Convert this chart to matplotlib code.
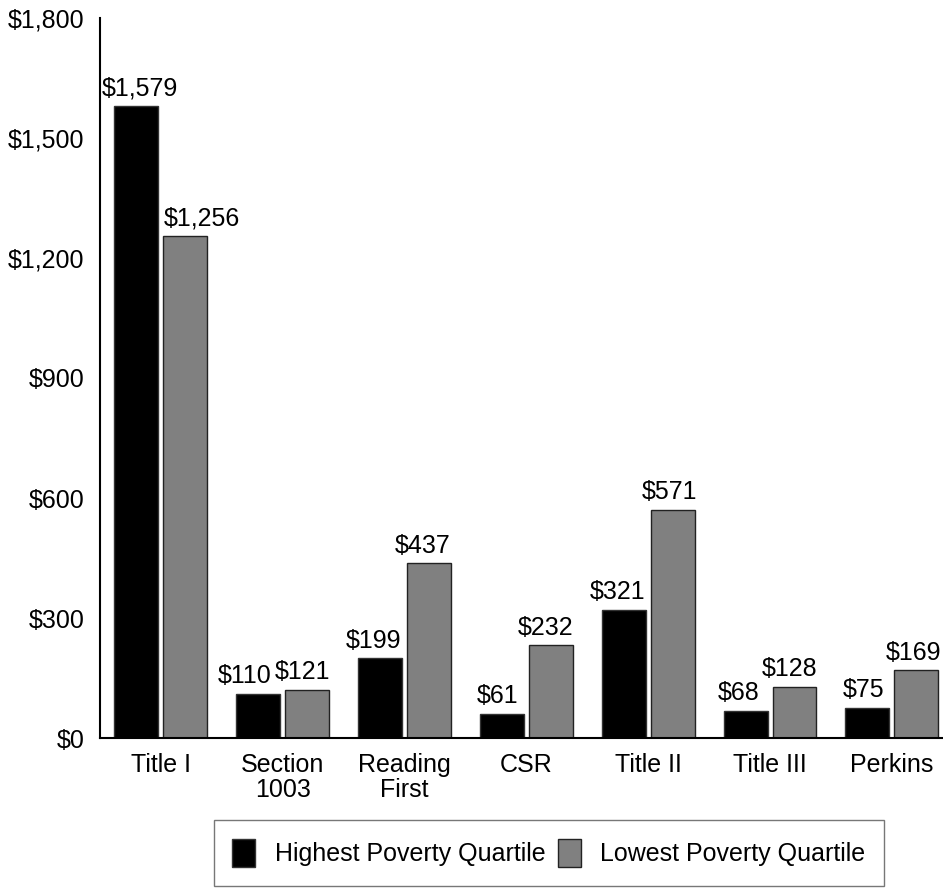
import matplotlib.pyplot as plt
import numpy as np

plt.rcParams['font.family'] = ['Liberation Sans', 'DejaVu Sans']

programas = ["Title I", "Section\n1003", "Reading\nFirst", "CSR", "Title II", "Title III", "Perkins"]
alta_pobreza = [1579, 110, 199, 61, 321, 68, 75]
baja_pobreza = [1256, 121, 437, 232, 571, 128, 169]

# desplazamiento horizontal de las etiquetas (pixeles)
desp_alta = [3.5, -13.5, -6.5, -4, -6, -6.5, -3.5]
desp_baja = [16.5, -5, -6, -5.5, -3, -4.5, -3]

x = np.arange(len(programas))
ancho = 0.361

fig = plt.figure(figsize=(9.43, 8.88), dpi=100)
ax = fig.add_axes([100/943, 1-738/888, 843/943, 720/888])

b1 = ax.bar(x - 0.201, alta_pobreza, ancho, color="black", edgecolor="#333333",
            linewidth=1, label="Highest Poverty Quartile")
b2 = ax.bar(x + 0.201, baja_pobreza, ancho, color="#808080", edgecolor="#222222",
            linewidth=1, label="Lowest Poverty Quartile")

for barras, desp in ((b1, desp_alta), (b2, desp_baja)):
    for b, d in zip(barras, desp):
        ax.annotate("${:,}".format(int(b.get_height())),
                    (b.get_x() + b.get_width()/2, b.get_height()),
                    xytext=(d * 0.72, 4), textcoords="offset points",
                    ha="center", va="bottom", fontsize=18)

ax.set_ylim(0, 1800)
ax.set_xlim(-0.5, 6.42)
ax.set_yticks(range(0, 1801, 300))
ax.set_yticklabels(["${:,}".format(v) for v in range(0, 1801, 300)], fontsize=18)
ax.set_xticks(x)
ax.set_xticklabels(programas, fontsize=18, linespacing=1.05)
ax.tick_params(length=0, pad=11)
ax.tick_params(axis="y", pad=11)
ax.spines["top"].set_visible(False)
ax.spines["right"].set_visible(False)
ax.spines["left"].set_linewidth(1.5)
ax.spines["bottom"].set_linewidth(1.5)

leg = fig.legend(loc="center", bbox_to_anchor=(549/943, 1-853/888), ncol=2, fontsize=18,
                 frameon=True, fancybox=False, edgecolor="#555555", handlelength=0.9,
                 handleheight=1.4, borderpad=0.75, columnspacing=0.5, handletextpad=0.8,
                 borderaxespad=0)
leg.get_frame().set_linewidth(1)

fig.savefig("out.png", dpi=100)
